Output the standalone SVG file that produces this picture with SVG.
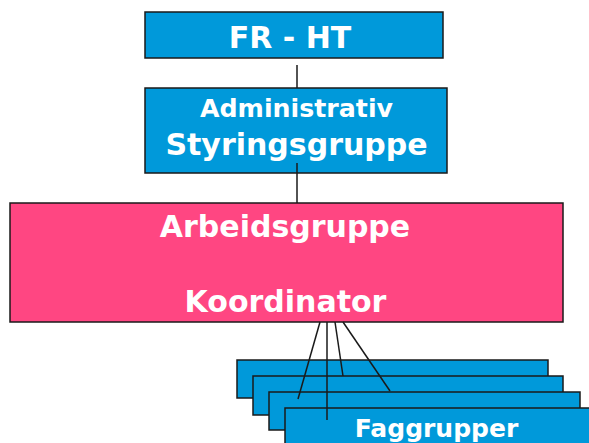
<svg xmlns="http://www.w3.org/2000/svg" width="589" height="443" viewBox="0 0 589 443">
<style>
.blue{fill:#0099da;stroke:#1a1a1a;stroke-width:1.5}
.pink{fill:#ff4682;stroke:#1a1a1a;stroke-width:1.5}
.t{font-family:"DejaVu Sans","Liberation Sans",sans-serif;font-weight:bold;fill:#ffffff;text-anchor:middle}
.c{stroke:#1a1a1a;stroke-width:1.5;fill:none}
</style>
<rect width="589" height="443" fill="#ffffff"/>
<g id="fr-ht">
<rect class="blue" x="145" y="12" width="298" height="46"/>
<text class="t" x="290" y="48" font-size="30">FR - HT</text>
</g>
<g id="styringsgruppe">
<rect class="blue" x="145" y="88" width="302" height="85"/>
<text class="t" x="296.5" y="117" font-size="24" textLength="193" lengthAdjust="spacingAndGlyphs">Administrativ</text>
<text class="t" x="296.5" y="155" font-size="30">Styringsgruppe</text>
</g>
<g id="arbeidsgruppe">
<rect class="pink" x="10" y="203" width="553" height="119"/>
<text class="t" x="285" y="237" font-size="30">Arbeidsgruppe</text>
<text class="t" x="285.5" y="312" font-size="30">Koordinator</text>
</g>
<g id="faggrupper">
<rect class="blue" x="237" y="360" width="311" height="38"/>
<rect class="blue" x="253" y="376" width="310" height="39"/>
<rect class="blue" x="269" y="392" width="311" height="38"/>
<rect class="blue" x="285" y="408" width="311" height="38"/>
<text class="t" x="436.5" y="437" font-size="25">Faggrupper</text>
</g>
<g id="connectors">
<line class="c" x1="297" y1="65" x2="297" y2="88"/>
<line class="c" x1="297" y1="163" x2="297" y2="203"/>
<line class="c" x1="320" y1="322" x2="298" y2="399"/>
<line class="c" x1="327" y1="322" x2="327" y2="420"/>
<line class="c" x1="335" y1="322" x2="343" y2="376"/>
<line class="c" x1="343" y1="322" x2="390" y2="391"/>
</g>
</svg>
